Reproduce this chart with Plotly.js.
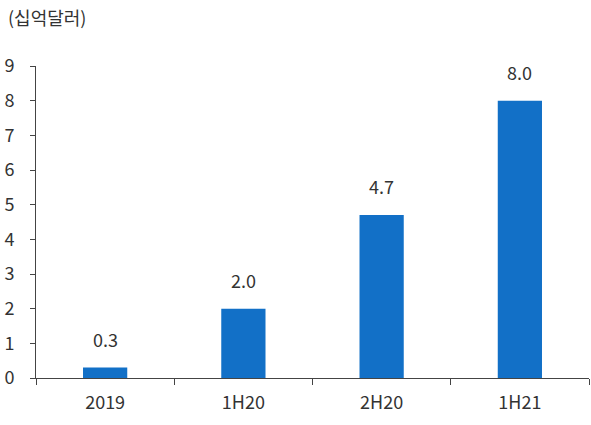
<!DOCTYPE html>
<html>
<head>
<meta charset="utf-8">
<script src="https://cdn.plot.ly/plotly-3.0.1.min.js"></script>
<style>html,body{margin:0;padding:0;background:#fff;}#chart{width:591px;height:425px;}</style>
</head>
<body>
<div id="chart"></div>
<script>
const categories = ["2019", "1H20", "2H20", "1H21"];
const values = [0.3, 2.0, 4.7, 8.0];
const valueLabels = ["0.3", "2.0", "4.7", "8.0"];
const unitLabel = "(십억달러)";

const font = "'Noto Sans CJK KR', 'Noto Sans', sans-serif";

const trace = {
  type: "bar",
  x: categories,
  y: values,
  marker: {color: "#1270C7"},
  hoverinfo: "none"
};

const annotations = categories.map((c, i) => ({
  x: i, y: values[i], text: valueLabels[i], showarrow: false,
  xref: "x", yref: "y", yanchor: "bottom", yshift: 14,
  font: {family: font, size: 18, color: "#333"}
}));
annotations.push({
  text: unitLabel, xref: "paper", yref: "paper", x: -0.054, y: 1.0,
  xanchor: "left", yanchor: "bottom", yshift: 34, showarrow: false,
  font: {family: font, size: 18, color: "#333"}
});

const layout = {
  width: 591, height: 425,
  margin: {l: 36, r: 2, t: 66, b: 47},
  paper_bgcolor: "#fff", plot_bgcolor: "#fff",
  bargap: 0.68,
  showlegend: false,
  font: {family: font, size: 18, color: "#333"},
  xaxis: {
    type: "category",
    categoryorder: "array", categoryarray: categories,
    showline: true, linecolor: "#444", linewidth: 1,
    ticks: "outside", ticklen: 6, tickcolor: "#444",
    tickson: "boundaries",
    showgrid: false, zeroline: false,
    tickangle: 0,
    ticklabelstandoff: 8,
    tickfont: {family: font, size: 18, color: "#333"}
  },
  yaxis: {
    range: [0, 9], dtick: 1,
    showline: true, linecolor: "#444", linewidth: 1,
    ticks: "outside", ticklen: 5, tickcolor: "#444",
    showgrid: false, zeroline: false,
    tickfont: {family: font, size: 18, color: "#333"},
    ticklabelstandoff: 12
  },
  annotations: annotations
};

Plotly.newPlot("chart", [trace], layout, {staticPlot: true});
</script>
</body>
</html>
